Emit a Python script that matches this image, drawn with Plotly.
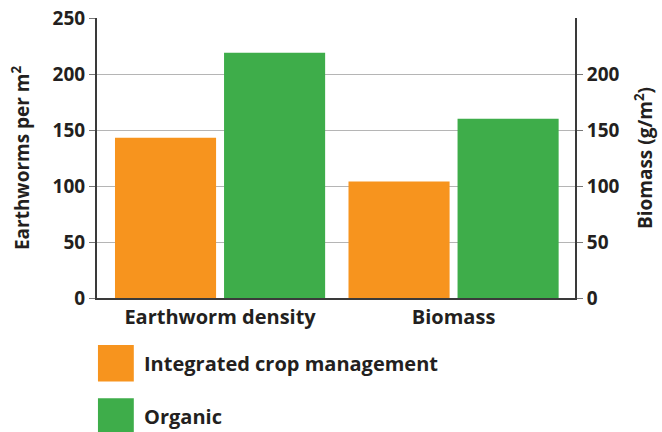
import plotly.graph_objects as go

categories = ["Earthworm density", "Biomass"]
series_names = ["Integrated crop management", "Organic"]
integrated_vals = [143, 104]
organic_vals = [219, 160]
left_ticks = [0, 50, 100, 150, 200, 250]
right_ticks = [0, 50, 100, 150, 200]

ORANGE = "#F7941E"
GREEN = "#3EAD4A"
FONT = "Open Sans"
TXT = "#231F20"

fig = go.Figure()
fig.add_trace(go.Bar(x=categories, y=integrated_vals, name=series_names[0],
                     marker=dict(color=ORANGE, line=dict(width=0)), showlegend=False))
fig.add_trace(go.Bar(x=categories, y=organic_vals, name=series_names[1],
                     marker=dict(color=GREEN, line=dict(width=0)), showlegend=False))
fig.add_trace(go.Scatter(x=[categories[0]], y=[0], yaxis="y2", mode="markers",
                         marker=dict(opacity=0), showlegend=False, hoverinfo="skip"))

ytickfont = dict(family=FONT, size=19, color=TXT, weight="bold")
xtickfont = dict(family=FONT, size=20, color=TXT, weight="bold")
titlefont = dict(family=FONT, size=19, color=TXT, weight="bold")

fig.update_layout(
    width=662, height=432,
    margin=dict(l=97, r=87, t=18, b=134),
    paper_bgcolor="white", plot_bgcolor="white",
    barmode="group", bargap=0.066, bargroupgap=0.073,
    font=dict(family=FONT, color=TXT),
    xaxis=dict(range=[-0.527, 1.52], showline=True, linecolor="#3a3a3a", linewidth=2, ticks="",
               tickfont=xtickfont, showgrid=False, automargin=False),
    yaxis=dict(range=[0, 250], tickvals=left_ticks, showgrid=True, gridcolor="#b5b5b5",
               gridwidth=1, showline=True, linecolor="#3a3a3a", linewidth=2,
               ticks="outside", ticklen=6, tickcolor="#777", tickfont=ytickfont,
               zeroline=False, automargin=False,
               title=dict(text="Earthworms per m<sup>2</sup>", font=titlefont, standoff=18)),
    yaxis2=dict(range=[0, 250], tickvals=right_ticks, overlaying="y", side="right",
                showgrid=False, showline=True, linecolor="#3a3a3a", linewidth=2,
                ticks="outside", ticklen=6, tickcolor="#777", tickfont=ytickfont,
                zeroline=False, automargin=False,
                title=dict(text="Biomass (g/m<sup>2</sup>)", font=titlefont, standoff=20)),
)

# Legend drawn as swatches + labels below the plot
legend_items = [(series_names[0], ORANGE, 0), (series_names[1], GREEN, 1)]
for name, color, i in legend_items:
    y0 = -0.168 - i * 0.19
    fig.add_shape(type="rect", xref="paper", yref="paper",
                  x0=0.002, x1=0.077, y0=y0 - 0.13, y1=y0,
                  fillcolor=color, line=dict(width=0))
    fig.add_annotation(xref="paper", yref="paper", x=0.094, y=y0 - 0.065,
                       xanchor="left", yanchor="middle", showarrow=False,
                       text=name, font=dict(family=FONT, size=20, color=TXT, weight="bold"))

fig.write_html("out.html", config={"displayModeBar": False},
               post_script="document.body.style.margin='0';document.body.style.overflow='hidden';")
